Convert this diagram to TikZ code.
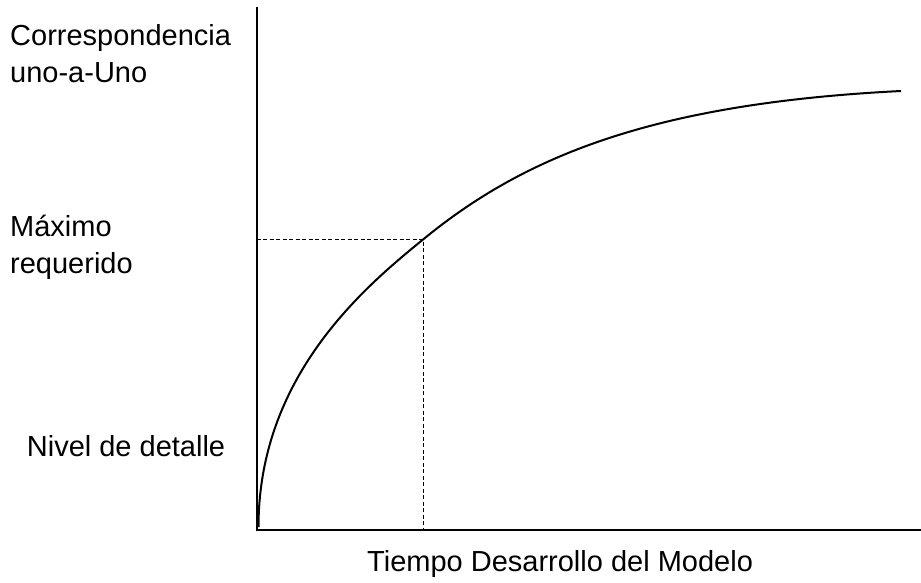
\documentclass[tikz,border=0pt]{standalone}
\usepackage{fontspec}
\setmainfont{Liberation Sans}
\begin{document}
\begin{tikzpicture}[x=1pt,y=-1pt,
  axis/.style={line width=2pt},
  curveline/.style={line width=2pt},
  guide/.style={line width=1.5pt,dash pattern=on 4pt off 2.5pt},
  lbl/.style={anchor=base west,inner sep=0pt,font=\fontsize{29}{35}\selectfont}]
\useasboundingbox (0,0) rectangle (921,583);
\coordinate (top) at (256.5,7);
\coordinate (origin) at (256.5,530);
\coordinate (right) at (921,530);
\coordinate (start) at (258.5,527);
\coordinate (hit) at (423.3,239.3);
\coordinate (hitY) at (256.5,239.3);
\coordinate (hitX) at (423.3,530);
\coordinate (finish) at (901,91);
\draw[axis] (top) -- (origin) -- (right);
\draw[guide] (hitY) -- (hit) -- (hitX);
\draw[curveline] (start) .. controls (258.5,377) and (363,288.2) .. (hit)
  .. controls (523.3,157.3) and (651,103.5) .. (finish);
\node[lbl] (l1) at (10,45.7) {Correspondencia};
\node[lbl] (l2) at (10,82.7) {uno-a-Uno};
\node[lbl] (l3) at (10,236) {Máximo};
\node[lbl] (l4) at (10,273) {requerido};
\node[lbl] (l5) at (26.7,456.7) {Nivel de detalle};
\node[lbl] (l6) at (367,571.7) {Tiempo Desarrollo del Modelo};
\end{tikzpicture}
\end{document}
